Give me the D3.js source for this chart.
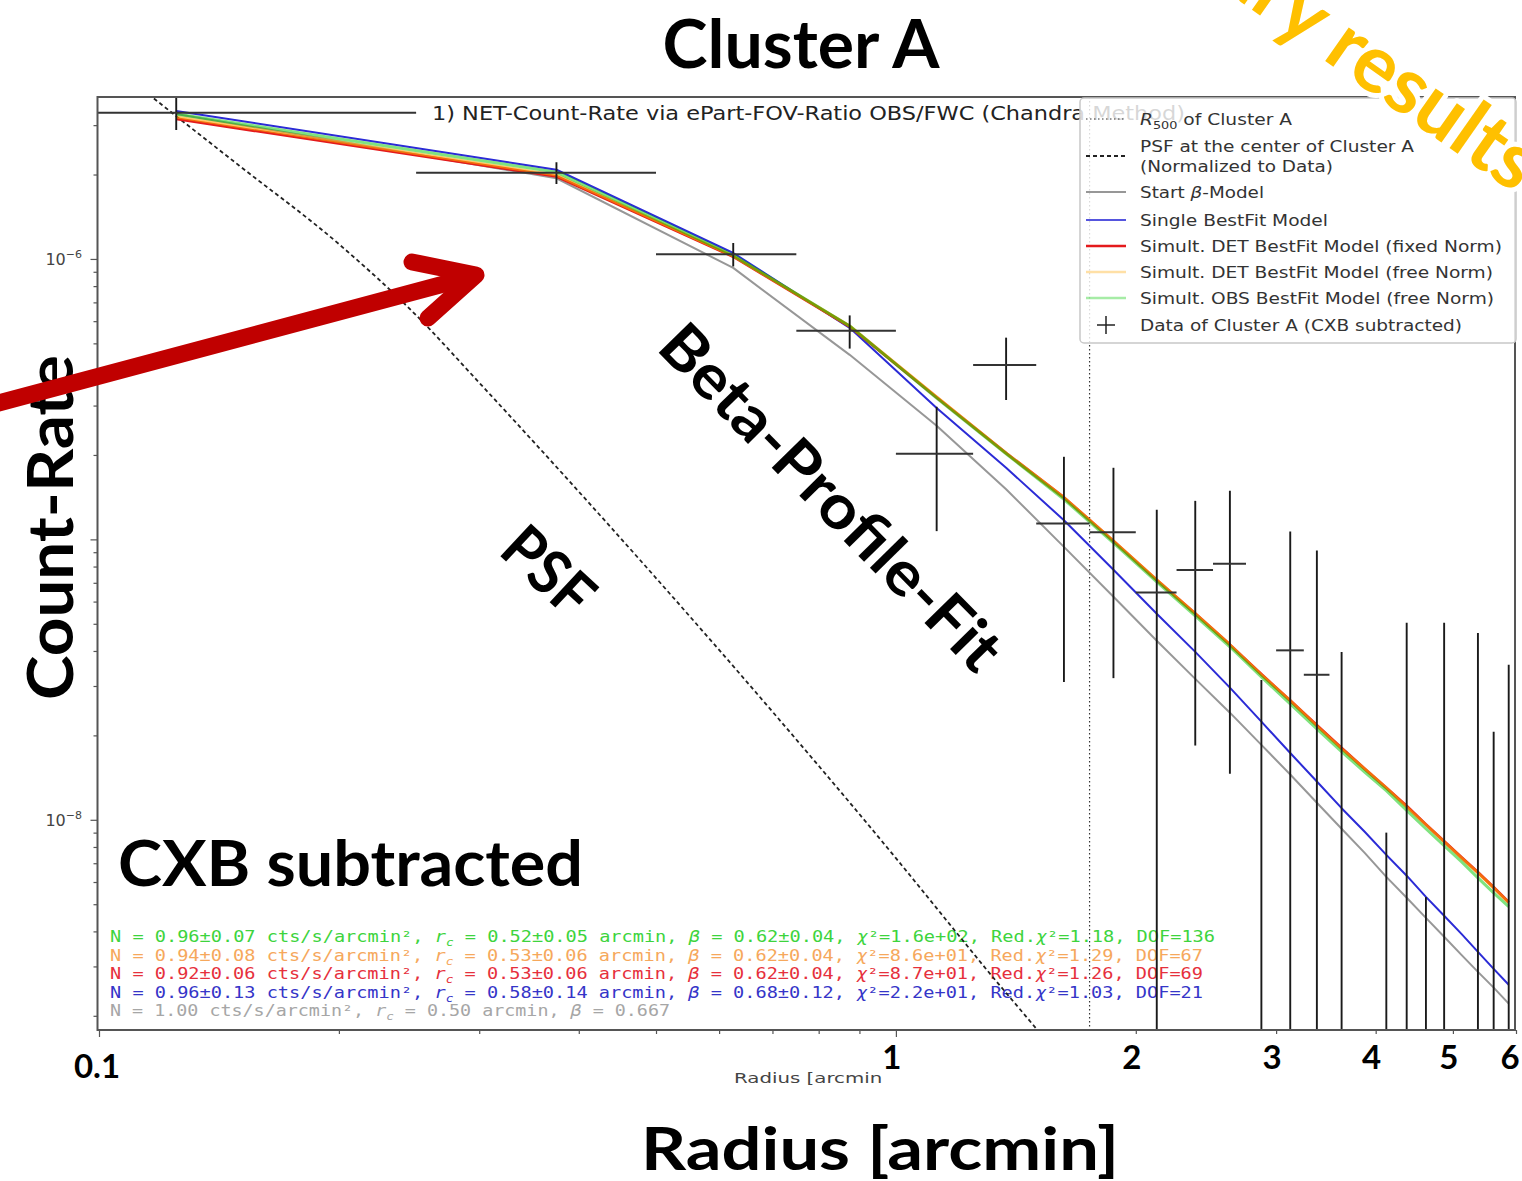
<!DOCTYPE html>
<html>
<head>
<meta charset="utf-8">
<script src="https://cdn.jsdelivr.net/npm/d3@7"></script>
<style>
  body { margin: 0; background: #fff; }
  svg { display: block; }
</style>
</head>
<body>
<svg id="chart" width="1522" height="1181"></svg>
<script>
// ---------------------------------------------------------------
// Radial bins of the surface-brightness profile (arcmin)
const binRadius = [0.125, 0.375, 0.625, 0.875, 1.125, 1.375, 1.625, 1.875,
                   2.125, 2.375, 2.625, 2.875, 3.125, 3.375, 3.625, 3.875,
                   4.125, 4.375, 4.625, 4.875, 5.125, 5.375, 5.625, 5.875];
const binHalfWidth = 0.125;

// Model count rates evaluated at the bin centres
const modelStart    = [3.29e-6, 1.94e-6, 9.29e-7, 4.55e-7, 2.54e-7, 1.51e-7, 9.40e-8, 6.24e-8,
                       4.35e-8, 3.18e-8, 2.41e-8, 1.85e-8, 1.45e-8, 1.15e-8, 9.29e-9, 7.62e-9,
                       6.26e-9, 5.27e-9, 4.47e-9, 3.83e-9, 3.30e-9, 2.87e-9, 2.52e-9, 2.21e-9];
const modelSingle   = [3.37e-6, 2.08e-6, 1.05e-6, 5.68e-7, 2.94e-7, 1.80e-7, 1.17e-7, 7.79e-8,
                       5.43e-8, 3.97e-8, 2.96e-8, 2.24e-8, 1.73e-8, 1.37e-8, 1.10e-8, 9.06e-9,
                       7.50e-9, 6.32e-9, 5.31e-9, 4.55e-9, 3.92e-9, 3.38e-9, 2.94e-9, 2.58e-9];
const modelDetFixed = [3.16e-6, 1.97e-6, 1.02e-6, 5.75e-7, 3.21e-7, 2.03e-7, 1.41e-7, 9.86e-8,
                       7.16e-8, 5.43e-8, 4.21e-8, 3.30e-8, 2.66e-8, 2.17e-8, 1.80e-8, 1.52e-8,
                       1.30e-8, 1.12e-8, 9.62e-9, 8.37e-9, 7.34e-9, 6.49e-9, 5.74e-9, 5.08e-9];
const modelDetFree  = [3.21e-6, 1.99e-6, 1.025e-6, 5.77e-7, 3.22e-7, 2.03e-7, 1.41e-7, 9.88e-8,
                       7.17e-8, 5.43e-8, 4.21e-8, 3.29e-8, 2.66e-8, 2.16e-8, 1.79e-8, 1.52e-8,
                       1.30e-8, 1.11e-8, 9.60e-9, 8.35e-9, 7.32e-9, 6.47e-9, 5.72e-9, 5.06e-9];
const modelObsFree  = [3.29e-6, 2.04e-6, 1.03e-6, 5.77e-7, 3.19e-7, 2.02e-7, 1.39e-7, 9.72e-8,
                       7.06e-8, 5.34e-8, 4.14e-8, 3.23e-8, 2.59e-8, 2.11e-8, 1.75e-8, 1.48e-8,
                       1.27e-8, 1.08e-8, 9.29e-9, 8.08e-9, 7.09e-9, 6.21e-9, 5.49e-9, 4.90e-9];

// Measured profile of Cluster A (CXB subtracted): rate and 1-sigma error
const dataRadius = [0.125, 0.375, 0.625, 0.875, 1.125, 1.375, 1.625, 1.875, 2.125, 2.375, 2.625,
                    2.875, 3.125, 3.375, 3.625, 4.125, 4.375, 4.625, 4.875, 5.375, 5.625, 5.875];
const dataRate   = [3.32e-6, 2.03e-6, 1.04e-6, 5.54e-7, 2.02e-7, 4.19e-7, 1.14e-7, 1.06e-7, 6.46e-8, 7.78e-8, 8.18e-8,
                    -2.0e-8, 4.02e-8, 3.29e-8, -1.5e-8, -4.0e-8, -5.0e-9, -4.5e-8, -5.0e-9, -1.0e-8, -3.0e-8, -2.0e-8];
const dataErr    = [4.4e-7, 1.8e-7, 1.0e-7, 7.5e-8, 9.5e-8, 1.05e-7, 8.3e-8, 7.4e-8, 6.3e-8, 5.94e-8, 6.72e-8,
                    5.15e-8, 6.65e-8, 5.83e-8, 5.47e-8, 4.9e-8, 5.54e-8, 5.03e-8, 5.54e-8, 5.64e-8, 5.06e-8, 5.57e-8];

// PSF at the cluster centre, normalised to the data
const psfRadius = [0.11, 0.12, 0.15, 0.2, 0.25, 0.3, 0.4, 0.5, 0.7, 1.0, 1.2, 1.3, 1.5, 1.6];
const psfRate   = [4.31e-6, 3.54e-6, 2.15e-6, 1.13e-6, 6.30e-7, 3.62e-7, 1.48e-7, 7.28e-8,
                   2.43e-8, 7.30e-9, 3.86e-9, 2.92e-9, 1.80e-9, 1.44e-9];

// R500 of Cluster A (arcmin)
const r500 = 1.75;

// Axis ticks
const xTickValues = [0.1, 1, 2, 3, 4, 5, 6];
const xTickLabels = ["0.1", "1", "2", "3", "4", "5", "6"];
const yTickValues = [1e-6, 1e-7, 1e-8];
const yTickExponents = ["\u22126", "\u22127", "\u22128"];

// Fit results (green, orange, red, blue, grey)
const fitN       = [0.96, 0.94, 0.92, 0.96, 1.00];
const fitNErr    = [0.07, 0.08, 0.06, 0.13, null];
const fitRc      = [0.52, 0.53, 0.53, 0.58, 0.50];
const fitRcErr   = [0.05, 0.06, 0.06, 0.14, null];
const fitBeta    = [0.62, 0.62, 0.62, 0.68, 0.667];
const fitBetaErr = [0.04, 0.04, 0.04, 0.12, null];
const fitChi2    = ["1.6e+02", "8.6e+01", "8.7e+01", "2.2e+01", null];
const fitRedChi2 = [1.18, 1.29, 1.26, 1.03, null];
const fitDof     = [136, 67, 69, 21, null];

// Legend entries
const legendLabels = ["of Cluster A", "PSF at the center of Cluster A", "(Normalized to Data)",
                      "Start", "Single BestFit Model", "Simult. DET BestFit Model (fixed Norm)",
                      "Simult. DET BestFit Model (free Norm)", "Simult. OBS BestFit Model (free Norm)",
                      "Data of Cluster A (CXB subtracted)"];
// ---------------------------------------------------------------

const W = 1522, H = 1181;
const P = { left: 97.5, right: 1515, top: 97, bottom: 1030 };

const svg = d3.select("#chart");
svg.append("rect").attr("width", W).attr("height", H).attr("fill", "#fff");

const x = d3.scaleLog().domain([0.1, 6]).range([99, 1516]);
const y = d3.scaleLog().domain([1.78e-9, 3.78e-6]).range([P.bottom, P.top]);

const defs = svg.append("defs");
defs.append("clipPath").attr("id", "plotClip")
  .append("rect").attr("x", P.left).attr("y", P.top)
  .attr("width", P.right - P.left).attr("height", P.bottom - P.top);

// ---- axes ticks ----
const yMinor = [];
for (let e = -9; e <= -6; e++) for (let k = 2; k <= 9; k++) {
  const v = k * Math.pow(10, e);
  if (v > y.domain()[0] && v < y.domain()[1]) yMinor.push(v);
}
const xMinor = [0.2, 0.3, 0.4, 0.5, 0.6, 0.7, 0.8, 0.9, 2, 3, 4, 5, 6];

function styleAxis(g) {
  g.select(".domain").remove();
  g.selectAll("line").attr("stroke", "#555").attr("stroke-width", 1.2);
}
svg.append("g").attr("transform", `translate(${P.left},0)`)
  .call(d3.axisLeft(y).tickValues(yMinor).tickSize(4).tickFormat("")).call(styleAxis);
svg.append("g").attr("transform", `translate(${P.left},0)`)
  .call(d3.axisLeft(y).tickValues(yTickValues).tickSize(7).tickFormat("")).call(styleAxis);
svg.append("g").attr("transform", `translate(0,${P.bottom})`)
  .call(d3.axisBottom(x).tickValues(xMinor).tickSize(4).tickFormat("")).call(styleAxis);
svg.append("g").attr("transform", `translate(0,${P.bottom})`)
  .call(d3.axisBottom(x).tickValues([0.1, 1]).tickSize(7).tickFormat("")).call(styleAxis);

// y tick labels (10^n)
const yLab = svg.append("g").attr("font-family", "DejaVu Sans").attr("fill", "#444");
yTickValues.forEach((v, i) => {
  const t = yLab.append("text").attr("x", 82).attr("y", y(v) + 6)
    .attr("text-anchor", "end").attr("font-size", 16);
  t.append("tspan").text("10");
  t.append("tspan").attr("dy", -7).attr("font-size", 11).text(yTickExponents[i]);
});

// small original axis label
svg.append("text").attr("x", 812).attr("y", 1083).attr("text-anchor", "middle")
  .attr("font-family", "DejaVu Sans").attr("font-size", 14).attr("fill", "#444")
  .attr("textLength", 156).attr("lengthAdjust", "spacingAndGlyphs")
  .text("Radius [arcmin]");

// ---- plot content ----
const plotG = svg.append("g").attr("clip-path", "url(#plotClip)");

// title line inside the axes
plotG.append("text").attr("x", 432).attr("y", 120)
  .attr("font-family", "DejaVu Sans").attr("font-size", 19).attr("fill", "#222")
  .attr("textLength", 753).attr("lengthAdjust", "spacingAndGlyphs")
  .text("1) NET-Count-Rate via ePart-FOV-Ratio OBS/FWC (Chandra Method)");

// fit statistics text block
const statColors = ["#3dd43d", "#f6a85c", "#e6303c", "#3535c8", "#a6a6a6"];
const statWidths = [1105, 1093, 1093, 1093, 560];
const f2 = d3.format(".2f"), f3 = d3.format(".3f");
fitN.forEach((n, i) => {
  const t = plotG.append("text").attr("x", 110).attr("y", 942 + i * 18.6)
    .attr("font-family", "DejaVu Sans Mono").attr("font-size", 16)
    .attr("fill", statColors[i])
    .attr("textLength", statWidths[i]).attr("lengthAdjust", "spacingAndGlyphs");
  const seg = (s, st) => {
    const ts = t.append("tspan").text(s);
    if (st === "it") ts.attr("font-style", "italic");
    if (st === "sub") ts.attr("font-style", "italic").attr("font-size", 11).attr("dy", 4);
    if (st === "back") ts.attr("dy", -4);
    return ts;
  };
  const pm = (v, e, f) => e == null ? f(v) : `${f(v)}\u00b1${f(e)}`;
  seg(`N = ${pm(n, fitNErr[i], f2)} cts/s/arcmin\u00b2, `);
  seg("r", "it"); seg("c", "sub");
  seg(` = ${pm(fitRc[i], fitRcErr[i], f2)} arcmin, `, "back");
  seg("\u03b2", "it");
  seg(` = ${pm(fitBeta[i], fitBetaErr[i], fitBetaErr[i] == null ? f3 : f2)}`);
  if (fitChi2[i] != null) {
    seg(", "); seg("\u03c7", "it"); seg(`\u00b2=${fitChi2[i]}, Red.`);
    seg("\u03c7", "it"); seg(`\u00b2=${f2(fitRedChi2[i])}, DOF=${fitDof[i]}`);
  }
});

// R500 marker
plotG.append("line").attr("x1", x(r500)).attr("x2", x(r500))
  .attr("y1", P.top).attr("y2", P.bottom)
  .attr("stroke", "#333").attr("stroke-width", 1.2).attr("stroke-dasharray", "1.5,2.5");

// PSF (smooth profile)
const psfLine = d3.line().x(d => x(d[0])).y(d => y(d[1])).curve(d3.curveMonotoneX);
plotG.append("path").attr("d", psfLine(psfRadius.map((r, i) => [r, psfRate[i]])))
  .attr("fill", "none").attr("stroke", "#222").attr("stroke-width", 1.8)
  .attr("stroke-dasharray", "4,3");

// models (straight segments between bin centres)
const line = d3.line().x(d => x(d[0])).y(d => y(d[1]));
const models = [
  { v: modelStart,    c: "#8c8c8c", w: 2,   o: 0.9 },
  { v: modelSingle,   c: "#2b2bd6", w: 2,   o: 1 },
  { v: modelDetFixed, c: "#e41a1c", w: 3,   o: 1 },
  { v: modelDetFree,  c: "#ffa500", w: 3,   o: 0.6 },
  { v: modelObsFree,  c: "#00c800", w: 3,   o: 0.5 }
];
models.forEach(m => {
  plotG.append("path").attr("d", line(binRadius.map((r, i) => [r, m.v[i]])))
    .attr("fill", "none").attr("stroke", m.c).attr("stroke-width", m.w)
    .attr("stroke-opacity", m.o).attr("stroke-linejoin", "round");
});

// data with error bars
const eb = plotG.append("g").attr("stroke", "#1a1a1a").attr("stroke-width", 1.9);
dataRadius.forEach((r, i) => {
  const c = dataRate[i], e = dataErr[i];
  const xc = x(r);
  const yTop = y(c + e);
  const yBot = (c - e) > 0 ? y(c - e) : P.bottom + 10;
  eb.append("line").attr("x1", xc).attr("x2", xc).attr("y1", yTop).attr("y2", yBot);
  if (c > 0) {
    const x0 = (r - binHalfWidth) > 0 ? x(r - binHalfWidth) : P.left - 5;
    eb.append("line").attr("x1", x0).attr("x2", x(r + binHalfWidth))
      .attr("y1", y(c)).attr("y2", y(c)).attr("stroke", "#333").attr("stroke-width", 2);
  }
});

// frame
svg.append("rect").attr("x", P.left).attr("y", P.top)
  .attr("width", P.right - P.left).attr("height", P.bottom - P.top)
  .attr("fill", "none").attr("stroke", "#555").attr("stroke-width", 2);

// ---- legend ----
const lg = svg.append("g");
lg.append("rect").attr("x", 1080).attr("y", 98).attr("width", 436).attr("height", 245)
  .attr("rx", 4).attr("fill", "#fff").attr("fill-opacity", 0.82)
  .attr("stroke", "#c8c8c8").attr("stroke-width", 1.5);
const rowY = [119, 146, 166, 192, 220, 246, 272, 298, 325];
const handles = [
  { y: 119, c: "#333", w: 1.2, d: "1.5,2.5", o: 1 },
  { y: 156, c: "#222", w: 1.8, d: "4,3", o: 1 },
  { y: 192, c: "#8c8c8c", w: 2, d: null, o: 0.9 },
  { y: 220, c: "#2b2bd6", w: 2, d: null, o: 0.8 },
  { y: 246, c: "#e41a1c", w: 2.6, d: null, o: 1 },
  { y: 272, c: "#ffa500", w: 2.6, d: null, o: 0.35 },
  { y: 298, c: "#00c800", w: 2.6, d: null, o: 0.35 }
];
handles.forEach(h => {
  const l = lg.append("line").attr("x1", 1086).attr("x2", 1126).attr("y1", h.y).attr("y2", h.y)
    .attr("stroke", h.c).attr("stroke-width", h.w).attr("stroke-opacity", h.o);
  if (h.d) l.attr("stroke-dasharray", h.d);
});
lg.append("line").attr("x1", 1097).attr("x2", 1115).attr("y1", 325).attr("y2", 325)
  .attr("stroke", "#222").attr("stroke-width", 1.5);
lg.append("line").attr("x1", 1106).attr("x2", 1106).attr("y1", 316).attr("y2", 334)
  .attr("stroke", "#222").attr("stroke-width", 1.5);

const legendWidths = [152, 274, 193, 124, 188, 362, 353, 354, 322];
const lgText = lg.append("g").attr("font-family", "DejaVu Sans").attr("font-size", 16).attr("fill", "#333");
legendLabels.forEach((s, i) => {
  const t = lgText.append("text").attr("x", 1140).attr("y", rowY[i] + 6)
    .attr("textLength", legendWidths[i]).attr("lengthAdjust", "spacingAndGlyphs");
  if (i === 0) {
    t.append("tspan").attr("font-style", "italic").text("R");
    t.append("tspan").attr("font-size", 11).attr("dy", 4).text("500");
    t.append("tspan").attr("dy", -4).text(" " + s);
  } else if (i === 3) {
    t.append("tspan").text(s + " ");
    t.append("tspan").attr("font-style", "italic").text("\u03b2");
    t.append("tspan").text("-Model");
  } else {
    t.text(s);
  }
});

// ---- slide annotations ----
const ann = svg.append("g").attr("font-family", "Lato, 'Open Sans', sans-serif")
  .attr("font-weight", 700).attr("fill", "#000");

ann.append("text").attr("x", 801).attr("y", 68).attr("text-anchor", "middle")
  .attr("font-size", 66).attr("textLength", 277).attr("lengthAdjust", "spacingAndGlyphs")
  .text("Cluster A");

// backing for the rotated axis title
ann.append("rect").attr("x", 14).attr("y", 345).attr("width", 72).attr("height", 365).attr("fill", "#fff");
ann.append("text").attr("transform", "translate(73,700) rotate(-90)")
  .attr("font-size", 64).attr("textLength", 345).attr("lengthAdjust", "spacingAndGlyphs")
  .text("Count-Rate");

ann.append("text").attr("x", 118).attr("y", 886)
  .attr("font-size", 64).attr("textLength", 465).attr("lengthAdjust", "spacingAndGlyphs")
  .text("CXB subtracted");

ann.append("text").attr("transform", "translate(655,349) rotate(45.5)")
  .attr("font-size", 62).attr("textLength", 458).attr("lengthAdjust", "spacingAndGlyphs")
  .text("Beta-Profile-Fit");

ann.append("text").attr("transform", "translate(497,553) rotate(43)")
  .attr("font-size", 62).attr("textLength", 100).attr("lengthAdjust", "spacingAndGlyphs")
  .text("PSF");

ann.append("text").attr("x", 880).attr("y", 1170).attr("text-anchor", "middle")
  .attr("font-size", 60).attr("textLength", 478).attr("lengthAdjust", "spacingAndGlyphs")
  .text("Radius [arcmin]");

// large tick labels
xTickValues.forEach((v, i) => {
  const cx = Math.min(x(v) - 4, 1510);
  const by = v < 1 ? 1078 : 1069;
  if (v === 1) {
    ann.append("rect").attr("x", cx - 10).attr("y", 1040).attr("width", 28).attr("height", 50).attr("fill", "#fff");
  }
  ann.append("text").attr("x", v < 1 ? x(v) - 2 : cx).attr("y", by).attr("text-anchor", "middle")
    .attr("font-size", 33).text(xTickLabels[i]);
});

// pointer arrow
const arrow = svg.append("g").attr("fill", "none").attr("stroke", "#c00000")
  .attr("stroke-width", 17).attr("stroke-linecap", "round").attr("stroke-linejoin", "round");
arrow.append("path").attr("d", d3.line()([[-20, 408], [470, 277]]));
arrow.append("path").attr("d", d3.line()([[412, 262], [476, 275], [428, 318]]));

// stamp in the corner
svg.append("text").attr("transform", "translate(1515,194) rotate(35)")
  .attr("text-anchor", "end").attr("font-family", "Lato, 'Open Sans', sans-serif")
  .attr("font-weight", 700).attr("font-size", 80).attr("fill", "#ffc000")
  .attr("stroke", "#fff").attr("stroke-width", 10).attr("paint-order", "stroke")
  .attr("stroke-linejoin", "round")
  .text("Preliminary results");
</script>
</body>
</html>
